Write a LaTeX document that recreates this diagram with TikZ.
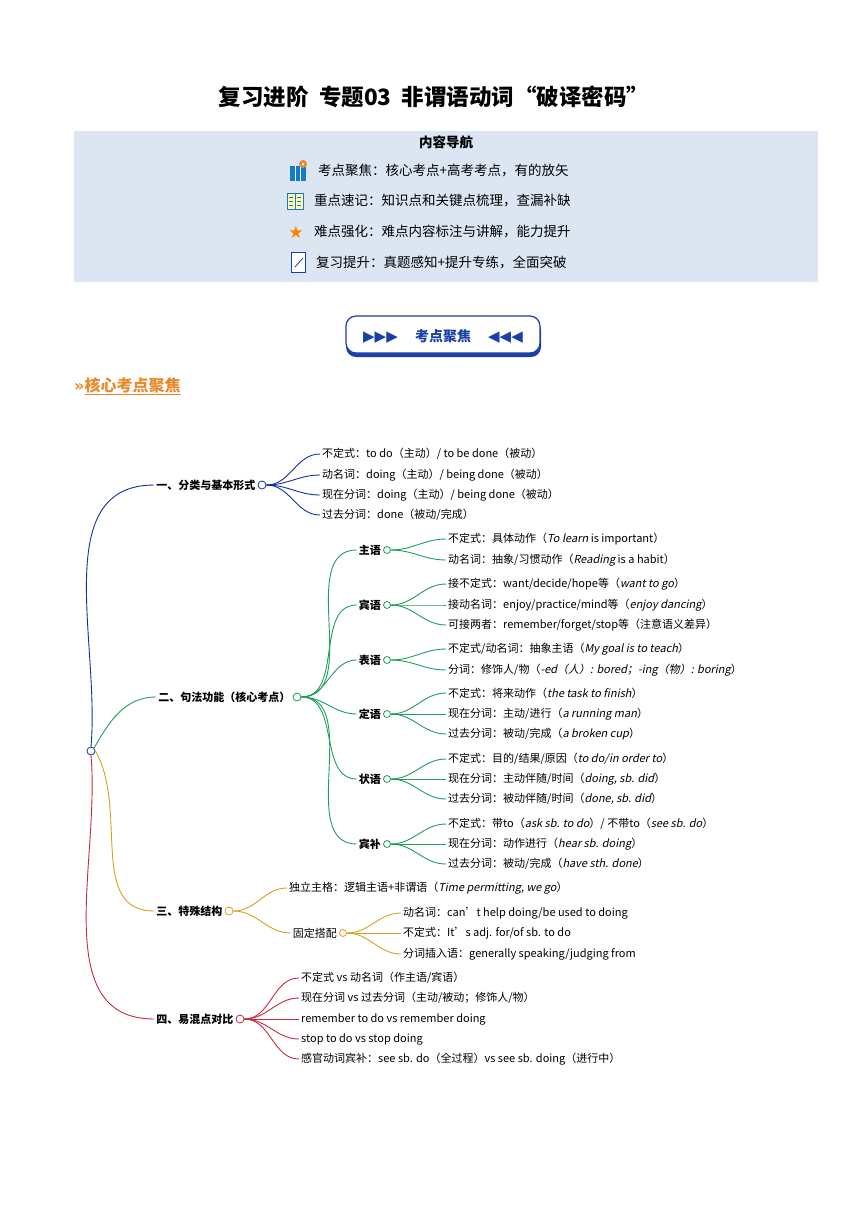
\documentclass[tikz,border=0pt]{standalone}
\usepackage{fontspec}
\setmainfont{Noto Sans CJK SC}[AutoFakeSlant=0.2]
\newfontfamily\djf{DejaVu Sans}
\definecolor{cA}{HTML}{10339A}
\definecolor{cB}{HTML}{1E9E5A}
\definecolor{cC}{HTML}{D9A020}
\definecolor{cD}{HTML}{C42A3C}
\definecolor{boxbg}{HTML}{DCE6F2}
\definecolor{btn}{HTML}{1A3FA8}
\definecolor{org}{HTML}{E8892A}
\begin{document}
\begin{tikzpicture}[x=1pt,y=-1pt,
  lab/.style={anchor=west,inner xsep=2pt,inner ysep=1pt,font=\fontsize{11}{13}\selectfont},
  hd/.style={lab,font=\fontsize{11}{13}\selectfont\bfseries},
  dot/.style={circle,draw,fill=white,minimum size=8pt,inner sep=0pt,line width=0.8pt},
  br/.style={line width=0.9pt,out=0,in=180}]
\useasboundingbox (0,0) rectangle (868,1227);
% title
\node[font=\fontsize{22.5}{26}\selectfont\bfseries] (title) at (434,97) {复习进阶\ \ 专题03\ \ 非谓语动词“破译密码”};
% nav box
\fill[boxbg] (74,131) rectangle (818,282);
\node[font=\fontsize{13.5}{15}\selectfont\bfseries] (nav) at (446,142) {内容导航};
\tikzset{nv/.style={anchor=west,font=\fontsize{13.5}{15}\selectfont,inner sep=0pt}}
\node[nv] (n1) at (318,171) {考点聚焦：核心考点+高考考点，有的放矢};
\node[nv] (n2) at (314,201) {重点速记：知识点和关键点梳理，查漏补缺};
\node[nv] (n3) at (314,231) {难点强化：难点内容标注与讲解，能力提升};
\node[nv] (n4) at (316,262) {复习提升：真题感知+提升专练，全面突破};
% icons
\fill[cyan!60!blue] (290,166) rectangle (306,181);
\draw[white,line width=0.6pt] (295,166)--(295,181) (300,166)--(300,181);
\fill[org] (303,164) circle (4pt);
\fill[white] (303,164) circle (1.5pt);
\draw[cyan!60!blue,line width=0.9pt,fill=yellow!30] (287,193) rectangle (303,209);
\draw[cyan!60!blue] (295,193)--(295,209) (289,197)--(293,197) (289,201)--(293,201) (289,205)--(293,205) (297,197)--(301,197) (297,201)--(301,201) (297,205)--(301,205);
\node[font=\djf\fontsize{17}{17}\selectfont,text=orange,inner sep=0pt] (star) at (296,232) {★};
\draw[btn,line width=0.9pt,fill=white] (291,252) rectangle (305,272);
\draw[btn,line width=0.8pt] (295,267)--(303,258);
% button
\fill[btn,rounded corners=10pt] (346,320) rectangle (541,357);
\draw[btn,fill=white,line width=1.2pt,rounded corners=10pt] (346,316) rectangle (540,353);
\node[font=\fontsize{14}{16}\selectfont\bfseries,text=btn] (bt) at (443,336) {{\djf\fontsize{15}{15}\selectfont ▶▶▶}\quad\ 考点聚焦\quad\ {\djf\fontsize{15}{15}\selectfont ◀◀◀}};
% section heading
\node[anchor=west,inner sep=0pt,font=\fontsize{16}{18}\selectfont\bfseries,text=org] (sec) at (74,386) {{\djf »}\underline{核心考点聚焦}};
% ===== mindmap
\node[dot,draw=cA] (root) at (91,751) {};
% 1
\node[dot,draw=cA] (d1) at (262,485) {};
\node[hd,anchor=east] (l1) at (d1.west) {一、分类与基本形式};
\node[lab] (a1) at (320,454) {不定式：to do（主动）/ to be done（被动）};
\node[lab] (a2) at (320,475) {动名词：doing（主动）/ being done（被动）};
\node[lab] (a3) at (320,495) {现在分词：doing（主动）/ being done（被动）};
\node[lab] (a4) at (320,515) {过去分词：done（被动/完成）};
\draw[cA,line width=0.9pt] (root.north) to[out=85,in=180] (l1.west);
\foreach \t in {a1,a2,a3,a4} \draw[cA,br] (d1.east) to (\t.west);
% 2
\node[dot,draw=cB] (d2) at (297,697) {};
\node[hd,anchor=east] (l2) at (d2.west) {二、句法功能（核心考点）};
\draw[cB,line width=0.9pt] (root.north east) to[out=60,in=180] (l2.west);
\foreach \n/\txt/\y in {s1/主语/550,s2/宾语/605,s3/表语/660,s4/定语/714,s5/状语/779,s6/宾补/844}{
  \node[dot,draw=cB,minimum size=7pt] (\n) at (387,\y) {};
  \node[hd,anchor=east] (\n l) at (\n.west) {\txt};
  \draw[cB,br] (d2.east) to (\n l.west);
}
\node[lab] (b1) at (446,539) {不定式：具体动作（\textit{To learn} is important）};
\node[lab] (b2) at (446,560) {动名词：抽象/习惯动作（\textit{Reading} is a habit）};
\node[lab] (b3) at (446,584) {接不定式：want/decide/hope等（\textit{want to go}）};
\node[lab] (b4) at (446,605) {接动名词：enjoy/practice/mind等（\textit{enjoy dancing}）};
\node[lab] (b5) at (446,625) {可接两者：remember/forget/stop等（注意语义差异）};
\node[lab] (b6) at (446,649) {不定式/动名词：抽象主语（\textit{My goal is to teach}）};
\node[lab] (b7) at (446,670) {分词：修饰人/物（\textit{-ed（人）: bored；-ing（物）: boring}）};
\node[lab] (b8) at (446,693) {不定式：将来动作（\textit{the task to finish}）};
\node[lab] (b9) at (446,714) {现在分词：主动/进行（\textit{a running man}）};
\node[lab] (b10) at (446,734) {过去分词：被动/完成（\textit{a broken cup}）};
\node[lab] (b11) at (446,759) {不定式：目的/结果/原因（\textit{to do/in order to}）};
\node[lab] (b12) at (446,779) {现在分词：主动伴随/时间（\textit{doing, sb. did}）};
\node[lab] (b13) at (446,799) {过去分词：被动伴随/时间（\textit{done, sb. did}）};
\node[lab] (b14) at (446,824) {不定式：带to（\textit{ask sb. to do}）/ 不带to（\textit{see sb. do}）};
\node[lab] (b15) at (446,844) {现在分词：动作进行（\textit{hear sb. doing}）};
\node[lab] (b16) at (446,864) {过去分词：被动/完成（\textit{have sth. done}）};
\foreach \p/\c in {s1/b1,s1/b2,s2/b3,s2/b4,s2/b5,s3/b6,s3/b7,s4/b8,s4/b9,s4/b10,s5/b11,s5/b12,s5/b13,s6/b14,s6/b15,s6/b16}
  \draw[cB,br] (\p.east) to (\c.west);
% 3
\node[dot,draw=cC] (d3) at (229,911) {};
\node[hd,anchor=east] (l3) at (d3.west) {三、特殊结构};
\draw[cC,line width=0.9pt] (root.east) to[out=-60,in=180] (l3.west);
\node[lab] (c1) at (287,888) {独立主格：逻辑主语+非谓语（\textit{Time permitting, we go}）};
\node[dot,draw=cC,minimum size=7pt] (d3b) at (343,933) {};
\node[lab,anchor=east] (c2) at (d3b.west) {固定搭配};
\node[lab] (c3) at (401,913) {动名词：can’t help doing/be used to doing};
\node[lab] (c4) at (401,933) {不定式：It’s adj. for/of sb. to do};
\node[lab] (c5) at (401,954) {分词插入语：generally speaking/judging from};
\draw[cC,br] (d3.east) to (c1.west);
\draw[cC,br] (d3.east) to (c2.west);
\foreach \c in {c3,c4,c5} \draw[cC,br] (d3b.east) to (\c.west);
% 4
\node[dot,draw=cD] (d4) at (240,1019) {};
\node[hd,anchor=east] (l4) at (d4.west) {四、易混点对比};
\draw[cD,line width=0.9pt] (root.south) to[out=-85,in=180] (l4.west);
\node[lab] (e1) at (299,978) {不定式 vs 动名词（作主语/宾语）};
\node[lab] (e2) at (299,998) {现在分词 vs 过去分词（主动/被动；修饰人/物）};
\node[lab] (e3) at (299,1019) {remember to do vs remember doing};
\node[lab] (e4) at (299,1039) {stop to do vs stop doing};
\node[lab] (e5) at (299,1059) {感官动词宾补：see sb. do（全过程）vs see sb. doing（进行中）};
\foreach \c in {e1,e2,e3,e4,e5} \draw[cD,br] (d4.east) to (\c.west);
\end{tikzpicture}
\end{document}
